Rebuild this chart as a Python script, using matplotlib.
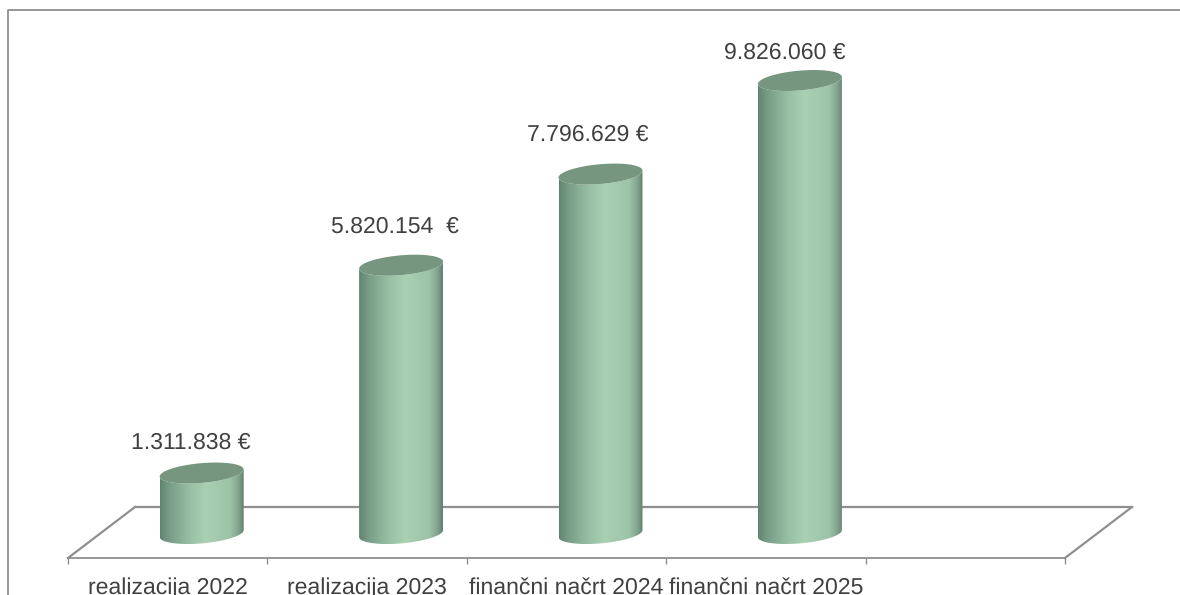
import matplotlib
matplotlib.use("Agg")
import numpy as np
import matplotlib.pyplot as plt
from matplotlib.colors import LinearSegmentedColormap
from matplotlib.patches import Polygon

categories = ["realizacija 2022", "realizacija 2023", "finančni načrt 2024", "finančni načrt 2025"]
values = [1311838, 5820154, 7796629, 9826060]
value_labels = ["1.311.838 €", "5.820.154  €", "7.796.629 €", "9.826.060 €"]

W, H = 1180, 595
plt.rcParams["font.family"] = ["Liberation Sans", "DejaVu Sans"]
plt.rcParams["text.hinting"] = "none"
plt.rcParams["text.hinting_factor"] = 1
GREY = "#8f8f8f"
TEXT = "#404040"
FS = 16.5
fig = plt.figure(figsize=(W / 100, H / 100), dpi=100, facecolor="white")

# plot box in pixels: category slots 68..1065, front floor edge at y=558
L, R, B, T = 68, 1065, 558, 10
ax = fig.add_axes([L / W, 1 - B / H, (R - L) / W, (B - T) / H])
PX_PER_VAL = 4.61e-5
PX_PER_CAT = (R - L) / 5
y0_px = 533.5
ylo = (y0_px - B) / PX_PER_VAL
yhi = (y0_px - T) / PX_PER_VAL
xlim = (-0.5, 4.5)

def dx(px):
    return px / PX_PER_CAT

def dy(px):
    return px / PX_PER_VAL

cmap = LinearSegmentedColormap.from_list("cyl", [
    (0.0, "#5f8470"), (0.10, "#769a85"), (0.35, "#98bfa4"), (0.55, "#a9d0b2"),
    (0.84, "#9cc3a7"), (0.94, "#80a28d"), (1.0, "#627f6e")])
grad = np.linspace(0, 1, 256).reshape(1, -1)

# floor
shift_x, shift_y = dx(67), dy(51)
ax.plot([xlim[0] + shift_x, xlim[1] + shift_x], [ylo + shift_y] * 2, color=GREY, lw=1.6, clip_on=False, zorder=1)
ax.plot([xlim[0], xlim[0] + shift_x], [ylo, ylo + shift_y], color=GREY, lw=1.6, clip_on=False, zorder=1)
ax.plot([xlim[1], xlim[1] + shift_x], [ylo, ylo + shift_y], color=GREY, lw=1.6, clip_on=False, zorder=1)

half_w = dx(42)
cx_off = dx(34)
tilt = dy(3.5)
minor = dy(9.9)

def ell(cx, cy, t):
    return cx + half_w * np.cos(t), cy + tilt * np.cos(t) + minor * np.sin(t)

for i, v in enumerate(values):
    cx = i + cx_off
    t = np.linspace(np.pi, 2 * np.pi, 80)
    xb, yb = ell(cx, 0, t)
    xt, yt = ell(cx, v, t[::-1])
    verts = np.column_stack([np.r_[xb, xt], np.r_[yb, yt]])
    body = Polygon(verts, closed=True, facecolor="none", edgecolor="none", transform=ax.transData)
    ax.add_patch(body)
    im = ax.imshow(grad, cmap=cmap, extent=(cx - half_w, cx + half_w, ylo, yhi),
                   aspect="auto", zorder=3, interpolation="bilinear")
    im.set_clip_path(body)
    tt = np.linspace(0, 2 * np.pi, 160)
    xe, ye = ell(cx, v, tt)
    ax.fill(xe, ye, color="#76967f", zorder=4, lw=0)

offsets = [(-11, 30), (-6, 38), (-13, 39), (-15, 27.5)]
for i, (v, lab) in enumerate(zip(values, value_labels)):
    ax.annotate(lab, xy=(i + cx_off, v), xytext=(offsets[i][0] * 0.72, offsets[i][1] * 0.72),
                textcoords="offset points", ha="center", va="center",
                fontsize=FS, color=TEXT, zorder=5)

ax.set_xlim(*xlim)
ax.set_ylim(ylo, yhi)
ax.patch.set_alpha(0)
for s in ("top", "right", "left"):
    ax.spines[s].set_visible(False)
ax.spines["bottom"].set_color(GREY)
ax.spines["bottom"].set_linewidth(1.3)
ax.set_yticks([])
ax.set_xticks(np.arange(xlim[0], xlim[1] + 1))
ax.set_xticklabels([])
ax.tick_params(axis="x", which="major", length=4.5, width=1.0, color=GREY)
ax.set_xticks(np.arange(len(categories)), minor=True)
ax.set_xticklabels(categories, minor=True, fontsize=FS, color=TEXT)
ax.tick_params(axis="x", which="minor", length=0, pad=14)

# outer chart frame: only top and left edges are visible
fig.add_artist(plt.Line2D([8 / W, 8 / W, 1], [0, 1 - 9.5 / H, 1 - 9.5 / H], color=GREY, lw=1.3))
fig.savefig("out.png", dpi=100)
